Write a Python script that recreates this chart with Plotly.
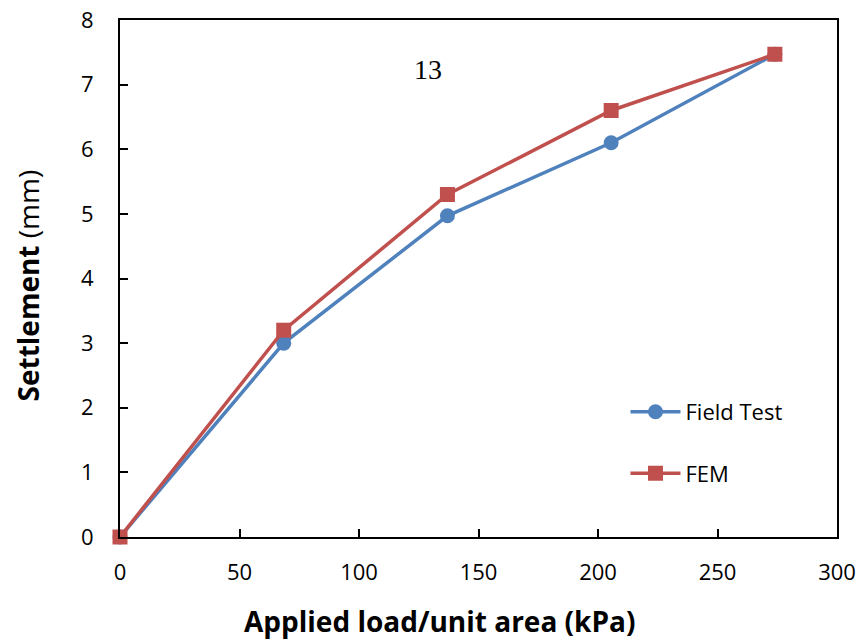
import plotly.graph_objects as go

# Applied load per unit area (kPa) and measured / computed settlement (mm)
load_kpa = [0, 68.5, 137, 205.5, 274]
field_test_mm = [0, 3.0, 4.97, 6.1, 7.47]
fem_mm = [0, 3.2, 5.3, 6.6, 7.47]

x_ticks = [0, 50, 100, 150, 200, 250, 300]
y_ticks = [0, 1, 2, 3, 4, 5, 6, 7, 8]

BLUE = "#4F81BD"
RED = "#C0504D"
TICK_FONT = dict(family="Open Sans", size=22, color="black")

fig = go.Figure()
fig.add_trace(go.Scatter(
    x=load_kpa, y=field_test_mm, name="Field Test", mode="lines+markers",
    line=dict(color=BLUE, width=3.5),
    marker=dict(symbol="circle", size=15, color=BLUE),
    cliponaxis=False, legendgroup="a",
))
fig.add_trace(go.Scatter(
    x=load_kpa, y=fem_mm, name="FEM", mode="lines+markers",
    line=dict(color=RED, width=3.5),
    marker=dict(symbol="square", size=15, color=RED),
    cliponaxis=False, legendgroup="b",
))

axis_common = dict(
    showgrid=False, zeroline=False, showline=True, linecolor="black",
    linewidth=2, mirror=True, ticks="inside", ticklen=8, tickwidth=1.5,
    tickcolor="black", tickfont=TICK_FONT, automargin=False,
)

fig.update_layout(
    width=862, height=640,
    margin=dict(l=120, r=25, t=20, b=103),
    paper_bgcolor="white", plot_bgcolor="white",
    xaxis=dict(range=[0, 300], tickvals=x_ticks, ticklabelstandoff=15, **axis_common),
    yaxis=dict(range=[0, 8], tickvals=y_ticks, ticklabelstandoff=20, **axis_common),
    showlegend=True,
    legend=dict(
        x=0.705, y=0.182, xanchor="left", yanchor="middle",
        font=dict(family="Open Sans", size=22, color="black"),
        bgcolor="rgba(0,0,0,0)", traceorder="grouped", tracegroupgap=30,
        itemwidth=50,
    ),
    annotations=[
        dict(text="<b>Applied load/unit area (kPa)</b>", xref="paper", yref="paper",
             x=0.446, y=-0.1625, showarrow=False, xanchor="center", yanchor="middle",
             font=dict(family="Open Sans", size=28, color="black")),
        dict(text="<b>Settlement</b> (mm)", xref="paper", yref="paper",
             x=-0.128, y=0.487, showarrow=False, textangle=-90,
             xanchor="center", yanchor="middle",
             font=dict(family="Open Sans", size=28, color="black")),
        dict(text="13", xref="x", yref="y", x=129, y=7.24, showarrow=False,
             font=dict(family="Liberation Serif", size=28, color="black")),
    ],
)

fig.write_html("out.html")
